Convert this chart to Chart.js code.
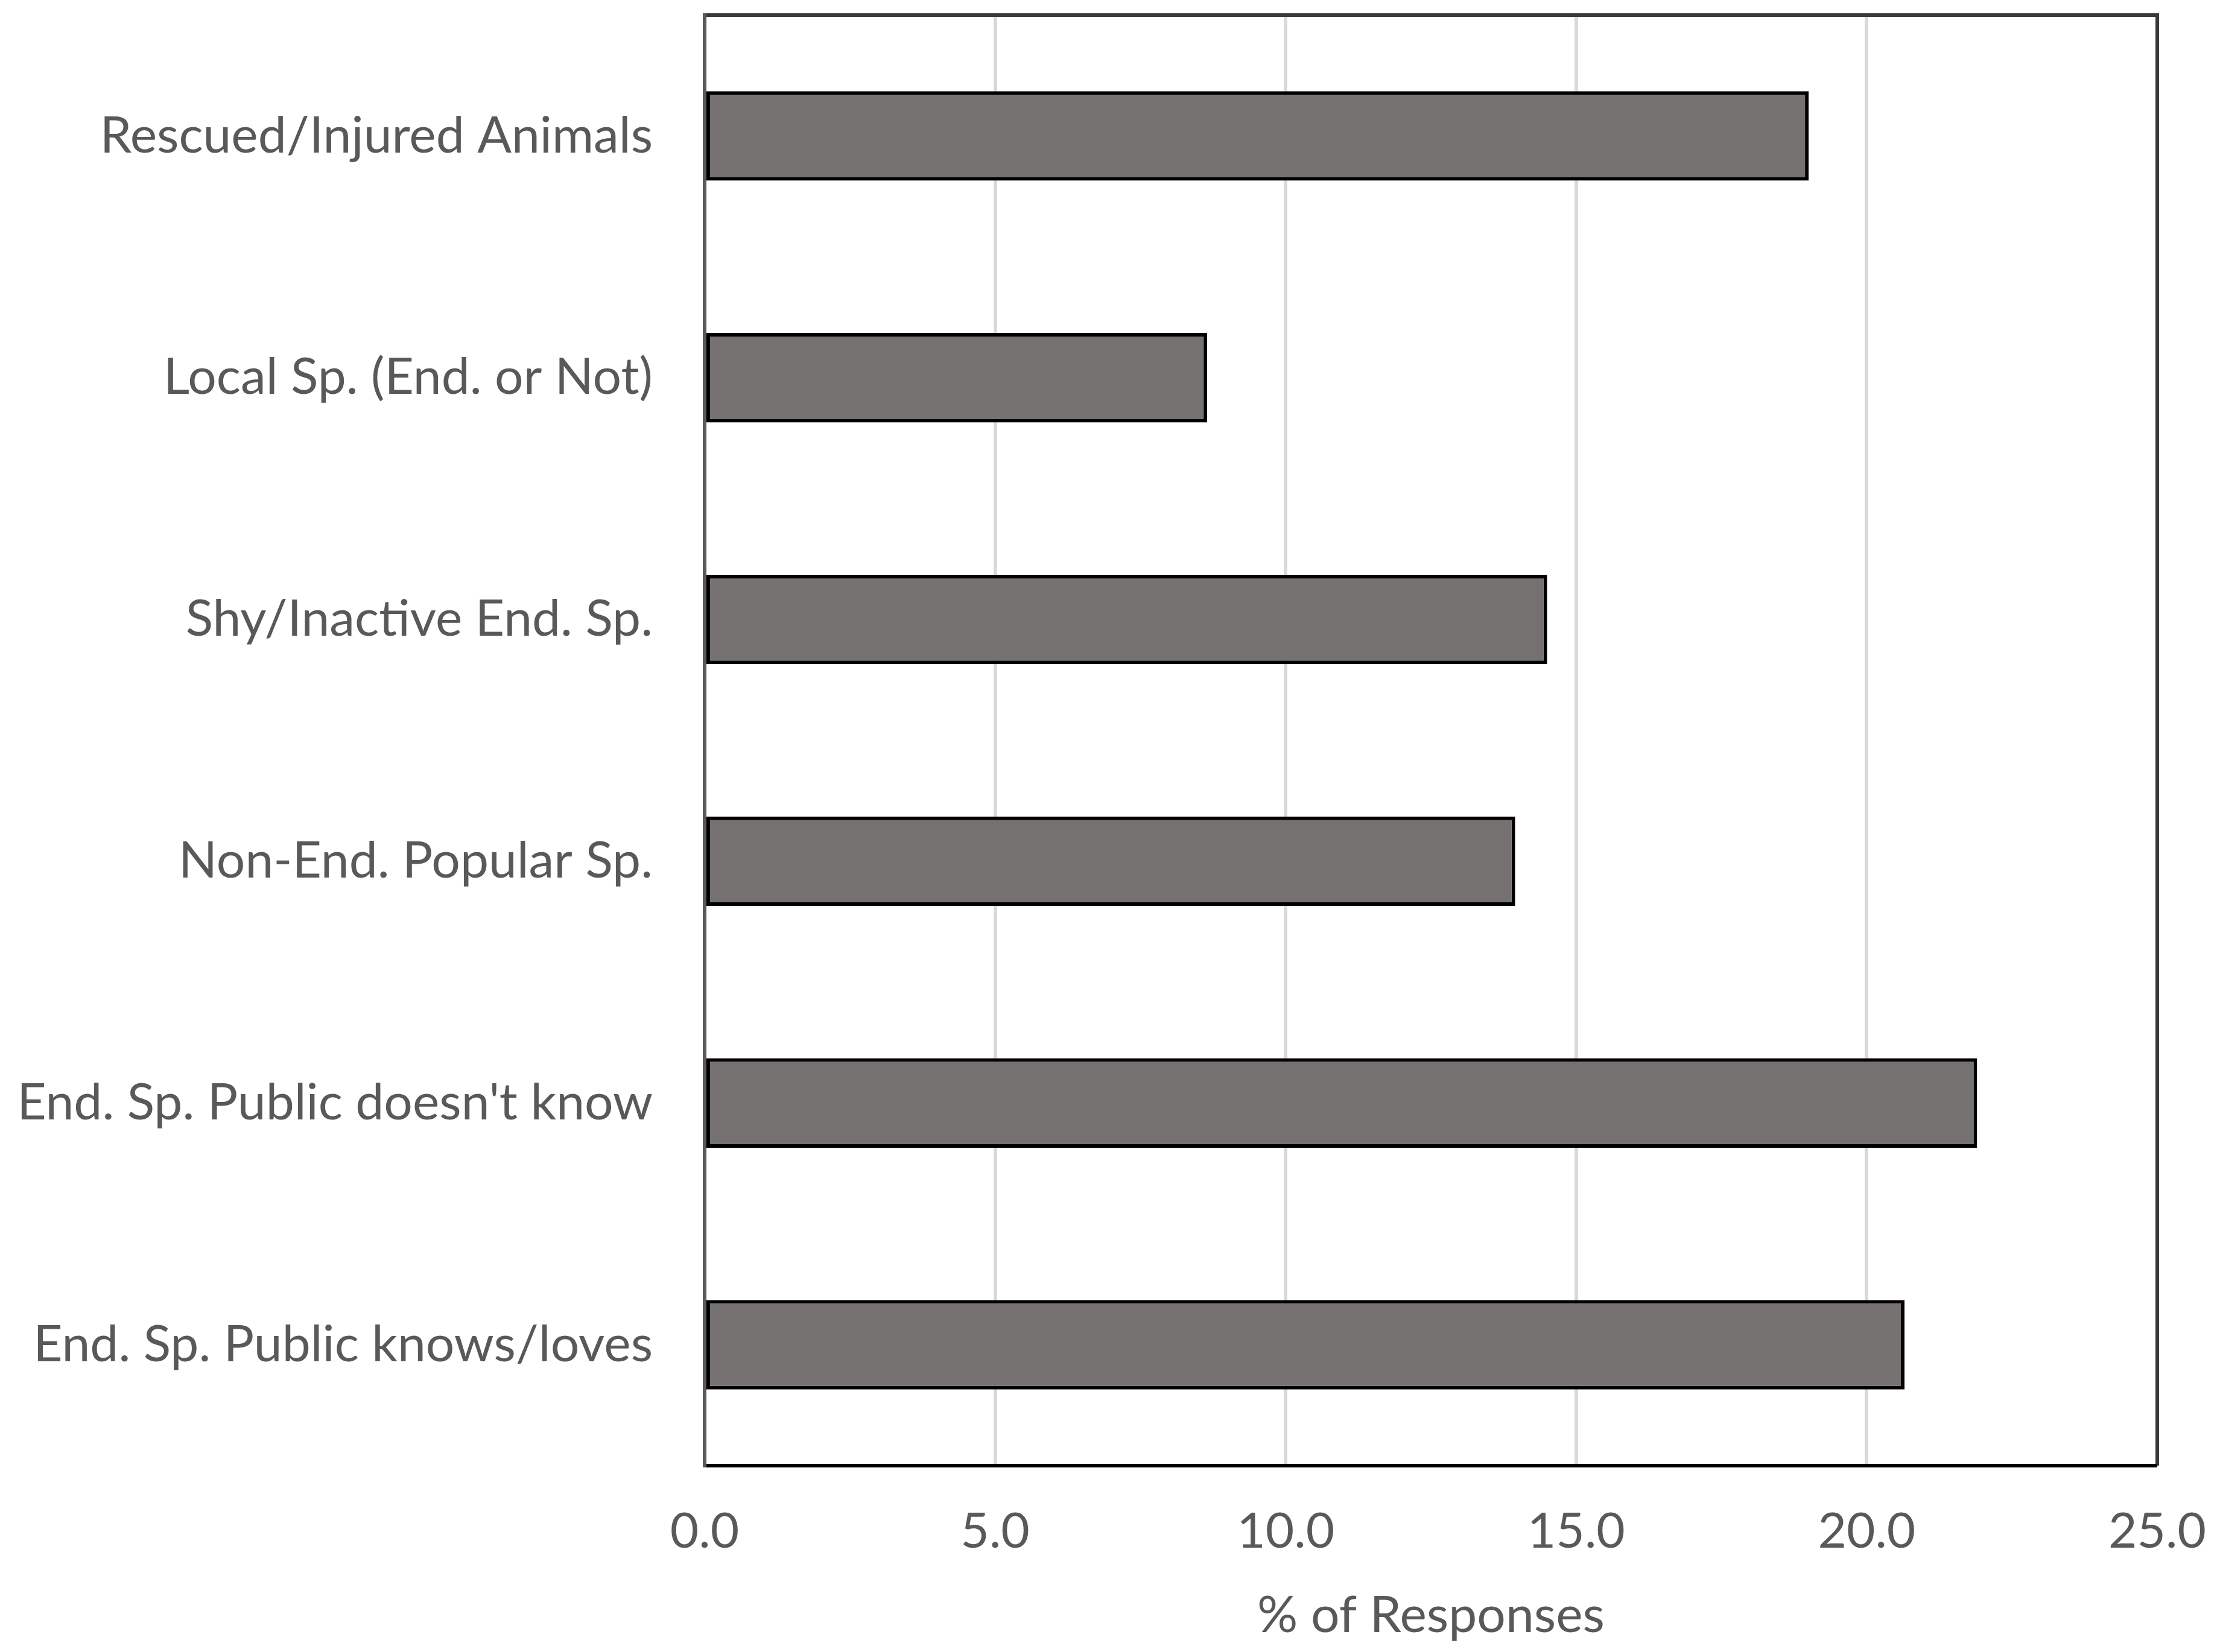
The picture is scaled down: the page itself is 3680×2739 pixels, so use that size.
<!DOCTYPE html>
<html>
<head>
<meta charset="utf-8">
<script src="https://cdn.jsdelivr.net/npm/chart.js@4/dist/chart.umd.min.js"></script>
<style>
  html, body { margin: 0; padding: 0; background: #ffffff; }
  #wrap { width: 3680px; height: 2739px; position: relative; }
</style>
</head>
<body>
<div id="wrap"><canvas id="myChart"></canvas></div>
<script>
// Daten
const categories = [
    'Rescued/Injured Animals',
    'Local Sp. (End. or Not)',
    'Shy/Inactive End. Sp.',
    'Non-End. Popular Sp.',
    "End. Sp. Public doesn't know",
    'End. Sp. Public knows/loves'
];
const responses = [19.0, 8.65, 14.5, 13.95, 21.9, 20.65];
const xTicks = [0, 5, 10, 15, 20, 25];
const xTitle = '% of Responses';

const textGray = '#595959';
const fontFam = 'Lato, "Open Sans", sans-serif';

// Rahmen um den Plotbereich
const frame = {
    id: 'frame',
    afterDatasetsDraw(chart) {
        const a = chart.chartArea;
        const c = chart.ctx;
        c.save();
        c.lineWidth = 6;
        c.strokeStyle = '#3a3a3a';
        c.beginPath();
        c.moveTo(a.left, a.top); c.lineTo(a.right, a.top); c.lineTo(a.right, a.bottom);
        c.stroke();
        c.strokeStyle = '#000000';
        c.beginPath();
        c.moveTo(a.left, a.bottom); c.lineTo(a.right, a.bottom);
        c.stroke();
        c.strokeStyle = '#5a5a5a';
        c.beginPath();
        c.moveTo(a.left, a.top - 3); c.lineTo(a.left, a.bottom + 3);
        c.stroke();
        c.restore();
    }
};

new Chart(document.getElementById('myChart'), {
    type: 'bar',
    data: {
        labels: categories,
        datasets: [{
            data: responses,
            backgroundColor: '#767171',
            borderColor: '#000000',
            borderWidth: 6,
            borderSkipped: false,
            categoryPercentage: 1,
            barPercentage: 0.37
        }]
    },
    options: {
        indexAxis: 'y',
        responsive: true,
        maintainAspectRatio: false,
        animation: false,
        layout: { padding: { top: 25, right: 104, left: 0, bottom: 0 } },
        plugins: { legend: { display: false }, tooltip: { enabled: false } },
        scales: {
            x: {
                min: 0,
                max: 25,
                afterBuildTicks: function(scale) {
                    scale.ticks = xTicks.map(v => ({ value: v }));
                },
                afterFit: function(scale) {
                    scale.height = 309;
                    scale.paddingLeft = 0;
                    scale.paddingRight = 0;
                },
                grid: { color: '#d9d9d9', lineWidth: 6, drawTicks: false },
                border: { display: false },
                ticks: {
                    color: textGray,
                    padding: 60,
                    font: { family: fontFam, size: 82 },
                    callback: function(value) { return Number(value).toFixed(1); }
                },
                title: {
                    display: true,
                    text: xTitle,
                    color: textGray,
                    font: { family: fontFam, size: 84 },
                    padding: { top: 0, bottom: 10 }
                }
            },
            y: {
                afterFit: function(scale) {
                    scale.width = 1168;
                    scale.paddingTop = 0;
                    scale.paddingBottom = 0;
                },
                grid: { display: false, drawTicks: false },
                border: { display: false },
                ticks: {
                    color: textGray,
                    padding: 86,
                    font: { family: fontFam, size: 84 }
                }
            }
        }
    },
    plugins: [frame]
});
</script>
</body>
</html>
